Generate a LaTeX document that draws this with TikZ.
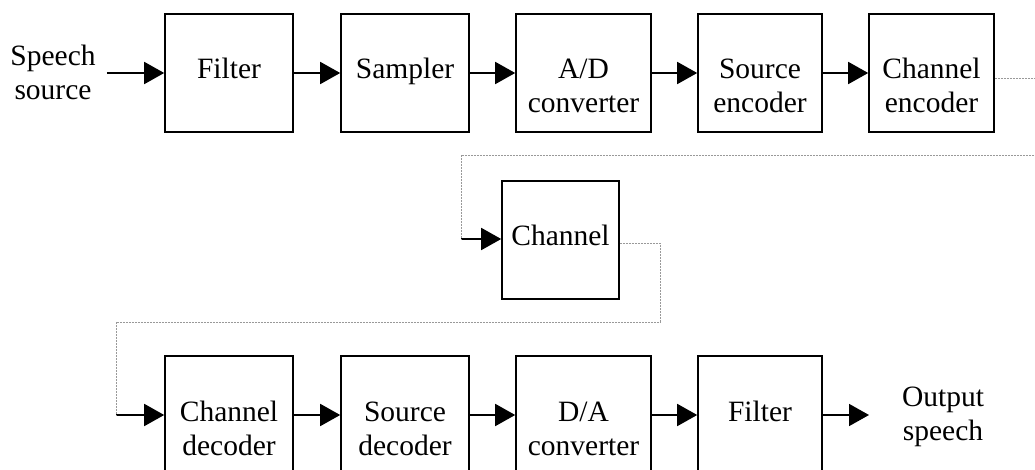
\documentclass[tikz,border=0pt]{standalone}
\usepackage{fontspec}
\setmainfont{Liberation Serif}
\usetikzlibrary{arrows.meta}
\newcommand{\blocktext}[1]{\begin{tabular}[t]{@{}c@{}}#1\end{tabular}}
\tikzset{
  blk/.style={draw, line width=1.6pt, inner xsep=0pt, inner ysep=0pt, text height=65pt, text depth=53pt},
  arr/.style={line width=1.7pt, -{Triangle[length=20pt,width=22pt]}},
  link/.style={gray!80, line width=0.9pt, dash pattern=on 1pt off 0.5pt}
}
\begin{document}
\begin{tikzpicture}[x=1pt,y=1pt,yscale=-1,xscale=1,font=\fontsize{29.5}{34}\selectfont]
\useasboundingbox (0,0) rectangle (1035,470);
\clip (0,0) rectangle (1035,470);

% top row: transmitter
\node [align=center, inner xsep=11pt, inner ysep=0pt] (src) at (53,72) {Speech\\source};
\node [blk, minimum width=128pt] (filt1) at (229,73) {\blocktext{Filter}};
\node [blk, minimum width=128pt] (samp) at (405,73) {\blocktext{Sampler}};
\node [blk, minimum width=135pt] (adc) at (583.5,73) {\blocktext{A/D\\converter}};
\node [blk, minimum width=124pt] (senc) at (760,73) {\blocktext{Source\\encoder}};
\node [blk, minimum width=125pt] (cenc) at (931.5,73) {\blocktext{Channel\\encoder}};

% middle: channel
\node [blk, minimum width=117pt] (chan) at (560.5,240) {\blocktext{Channel}};

% bottom row: receiver
\node [blk, minimum width=128pt] (cdec) at (229,415) {\blocktext{Channel\\decoder}};
\node [blk, minimum width=128pt] (sdec) at (405,415) {\blocktext{Source\\decoder}};
\node [blk, minimum width=135pt] (dac) at (583.5,415) {\blocktext{D/A\\converter}};
\node [blk, minimum width=124pt] (filt2) at (760,415) {\blocktext{Filter}};
\node [align=center, inner sep=0pt] (out) at (943,417) {Output\\speech};

% turning points of the dotted links
\coordinate (c1) at (1045,78);
\coordinate (c2) at (1045,155);
\coordinate (c3) at (461,155);
\coordinate (c4) at (461,239);
\coordinate (c5) at (660,243);
\coordinate (c6) at (660,322);
\coordinate (c7) at (116,322);
\coordinate (c8) at (116,415);
\coordinate (outtip) at (869,415);

% arrows
\draw [arr] (src.east |- filt1.west) -- (filt1.west);
\draw [arr] (filt1) -- (samp);
\draw [arr] (samp) -- (adc);
\draw [arr] (adc) -- (senc);
\draw [arr] (senc) -- (cenc);
\draw [arr] (c4) -- (chan.west |- c4);
\draw [arr] (c8) -- (cdec);
\draw [arr] (cdec) -- (sdec);
\draw [arr] (sdec) -- (dac);
\draw [arr] (dac) -- (filt2);
\draw [arr] (filt2) -- (outtip);

% dotted links
\draw [link] (cenc.east |- c1) -- (c1) -- (c2) -- (c3) -- (c4);
\draw [link] (chan.east |- c5) -- (c5) -- (c6) -- (c7) -- (c8);
\end{tikzpicture}
\end{document}
